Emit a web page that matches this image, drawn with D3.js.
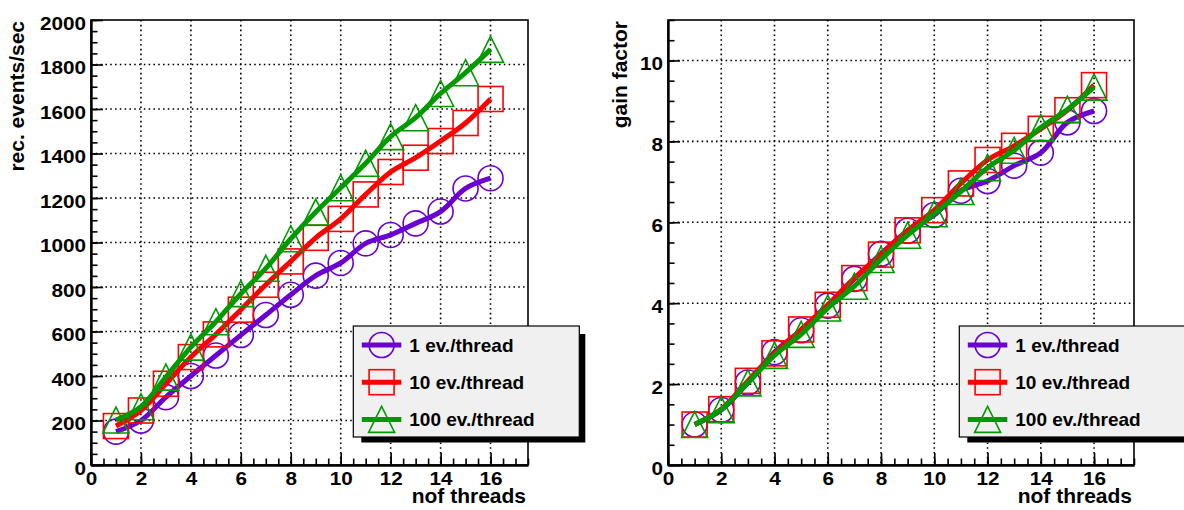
<!DOCTYPE html>
<html>
<head>
<meta charset="utf-8">
<script src="https://cdn.jsdelivr.net/npm/d3@7"></script>
<style>
  html, body { margin: 0; padding: 0; background: #fff; }
  svg { display: block; font-family: "Liberation Sans", Arial, Helvetica, sans-serif; font-weight: bold; }
</style>
</head>
<body>
<svg id="chart" width="1184" height="510"></svg>
<script>
// Number of worker threads
const threads = [1, 2, 3, 4, 5, 6, 7, 8, 9, 10, 11, 12, 13, 14, 15, 16];

// Reconstructed events per second
const rate1   = [150, 200, 305, 400, 492, 584, 674, 765, 851, 908, 996, 1034, 1086, 1139, 1243, 1289];
const rate10  = [175, 245, 365, 485, 587, 698, 810, 915, 1021, 1106, 1216, 1317, 1381, 1456, 1537, 1645];
const rate100 = [202, 262, 395, 530, 644, 770, 884, 1017, 1137, 1246, 1356, 1476, 1561, 1670, 1763, 1868];

// Gain factor relative to one thread
const gain1   = [1.00, 1.36, 2.04, 2.79, 3.33, 3.94, 4.60, 5.22, 5.79, 6.18, 6.78, 7.02, 7.40, 7.72, 8.47, 8.75];
const gain10  = [1.00, 1.38, 2.08, 2.76, 3.35, 3.96, 4.62, 5.20, 5.80, 6.30, 6.96, 7.54, 7.89, 8.31, 8.77, 9.39];
const gain100 = [1.00, 1.37, 2.03, 2.71, 3.23, 3.88, 4.42, 5.08, 5.68, 6.21, 6.76, 7.35, 7.78, 8.34, 8.79, 9.34];

const seriesNames = ["1 ev./thread", "10 ev./thread", "100 ev./thread"];
const seriesColors = ["#6a00d2", "#ff0000", "#009a00"];
const seriesMarkers = ["circle", "square", "triangle"];

const threadTicks = [0, 2, 4, 6, 8, 10, 12, 14, 16];
const rateTicks = [0, 200, 400, 600, 800, 1000, 1200, 1400, 1600, 1800, 2000];
const gainTicks = [0, 2, 4, 6, 8, 10];

const svg = d3.select("#chart");
const TICK_SCALE = 1.15;

function drawMarker(g, kind, color) {
  if (kind === "circle") {
    g.append("circle").attr("r", 12.5)
      .attr("fill", "none").attr("stroke", color).attr("stroke-width", 1.6);
  } else if (kind === "square") {
    g.append("rect").attr("x", -12.5).attr("y", -12.5).attr("width", 25).attr("height", 25)
      .attr("fill", "none").attr("stroke", color).attr("stroke-width", 1.6);
  } else {
    g.append("path").attr("d", "M0,-13L13,13L-13,13Z")
      .attr("fill", "none").attr("stroke", color).attr("stroke-width", 1.6);
  }
}

function panel(cfg) {
  const { left, right, top, bottom, yMax, yTicks, yMinorStep, series, yTitle, yTitleX, legendX } = cfg;
  const x = d3.scaleLinear().domain([0, 17.5]).range([left, right]);
  const y = d3.scaleLinear().domain([0, yMax]).range([bottom, top]);
  const g = svg.append("g");

  // frame
  g.append("rect").attr("x", left).attr("y", top)
    .attr("width", right - left).attr("height", bottom - top)
    .attr("fill", "#fff").attr("stroke", "#000").attr("stroke-width", 1.6);

  // dotted grid at major ticks
  const grid = g.append("g").attr("stroke", "#000").attr("stroke-width", 1.6)
    .attr("stroke-dasharray", "1.6 3.2");
  grid.selectAll(".gx").data(threadTicks.filter(t => t > 0)).join("line")
    .attr("x1", d => x(d)).attr("x2", d => x(d)).attr("y1", top).attr("y2", bottom);
  grid.selectAll(".gy").data(yTicks.filter(t => t > 0 && t < yMax)).join("line")
    .attr("y1", d => y(d)).attr("y2", d => y(d)).attr("x1", left).attr("x2", right);

  // minor ticks
  const xMinor = d3.range(0, 17.5 + 1e-9, 0.5);
  const yMinor = d3.range(0, yMax + 1e-9, yMinorStep);
  g.append("g").attr("transform", `translate(0,${bottom})`)
    .call(d3.axisBottom(x).tickValues(xMinor).tickSize(-6.5).tickFormat(""))
    .call(a => a.select(".domain").remove())
    .selectAll("line").attr("stroke-width", 1.6);
  g.append("g").attr("transform", `translate(${left},0)`)
    .call(d3.axisLeft(y).tickValues(yMinor).tickSize(-6.5).tickFormat(""))
    .call(a => a.select(".domain").remove())
    .selectAll("line").attr("stroke-width", 1.6);

  // major ticks and labels
  const xa = g.append("g").attr("transform", `translate(0,${bottom})`)
    .call(d3.axisBottom(x).tickValues(threadTicks).tickSize(-12).tickSizeOuter(0).tickPadding(7).tickFormat(d3.format("d")));
  xa.select(".domain").attr("stroke-width", 2.4);
  xa.selectAll(".tick line").attr("stroke-width", 1.6);
  xa.selectAll("text").attr("font-size", 18).attr("fill", "#000")
    .attr("font-family", "Liberation Sans, Arial, sans-serif").attr("font-weight", "bold")
    .attr("transform", `scale(${TICK_SCALE},1)`);

  const ya = g.append("g").attr("transform", `translate(${left},0)`)
    .call(d3.axisLeft(y).tickValues(yTicks).tickSize(-12).tickSizeOuter(0).tickPadding(5).tickFormat(d3.format("d")));
  ya.select(".domain").attr("stroke-width", 2.4);
  ya.selectAll(".tick line").attr("stroke-width", 1.6);
  ya.selectAll("text").attr("font-size", 18).attr("fill", "#000")
    .attr("font-family", "Liberation Sans, Arial, sans-serif").attr("font-weight", "bold")
    .attr("x", 0).attr("dy", "0.5em")
    .attr("transform", `translate(-5,0) scale(${TICK_SCALE},1)`);

  // axis titles
  g.append("text").attr("x", right - 2).attr("y", 503).attr("text-anchor", "end")
    .attr("font-size", 21).text("nof threads");
  g.append("text").attr("transform", `translate(${yTitleX},21) rotate(-90)`)
    .attr("text-anchor", "end").attr("font-size", 21).text(yTitle);

  // series
  const line = d3.line().x(d => x(d[0])).y(d => y(d[1])).curve(d3.curveCatmullRom.alpha(0.5));
  series.forEach((vals, i) => {
    const pts = threads.map((t, j) => [t, vals[j]]);
    const sg = g.append("g");
    sg.append("path").attr("d", line(pts)).attr("fill", "none")
      .attr("stroke", seriesColors[i]).attr("stroke-width", 5)
      .attr("stroke-linejoin", "round");
    sg.selectAll(".m").data(pts).join("g")
      .attr("transform", d => `translate(${x(d[0])},${y(d[1])})`)
      .each(function () { drawMarker(d3.select(this), seriesMarkers[i], seriesColors[i]); });
  });

  // legend
  const lx = legendX, ly = 326, lw = 226, lh = 111;
  const lg = svg.append("g");
  lg.append("rect").attr("x", lx + 8).attr("y", ly + 8).attr("width", lw - 2).attr("height", lh - 2.5)
    .attr("fill", "#000");
  lg.append("rect").attr("x", lx).attr("y", ly).attr("width", lw).attr("height", lh)
    .attr("fill", "#f0f0f0").attr("stroke", "#000").attr("stroke-width", 1.2);
  seriesNames.forEach((name, i) => {
    const cy = 345 + i * 37.2;
    lg.append("line").attr("x1", lx + 8.5).attr("x2", lx + 48).attr("y1", cy).attr("y2", cy)
      .attr("stroke", seriesColors[i]).attr("stroke-width", 5);
    const mg = lg.append("g").attr("transform", `translate(${lx + 28.3},${cy})`);
    drawMarker(mg, seriesMarkers[i], seriesColors[i]);
    lg.append("text").attr("x", lx + 56).attr("y", cy + 6.5).attr("font-size", 19)
      .attr("fill", "#000").text(name);
  });
}

panel({
  left: 91, right: 528, top: 20, bottom: 465,
  yMax: 2000, yTicks: rateTicks, yMinorStep: 50,
  series: [rate1, rate10, rate100],
  yTitle: "rec. events/sec", yTitleX: 24, legendX: 353.3
});

panel({
  left: 668, right: 1134, top: 20, bottom: 465,
  yMax: 11, yTicks: gainTicks, yMinorStep: 0.5,
  series: [gain1, gain10, gain100],
  yTitle: "gain factor", yTitleX: 627, legendX: 959.3
});
</script>
</body>
</html>
